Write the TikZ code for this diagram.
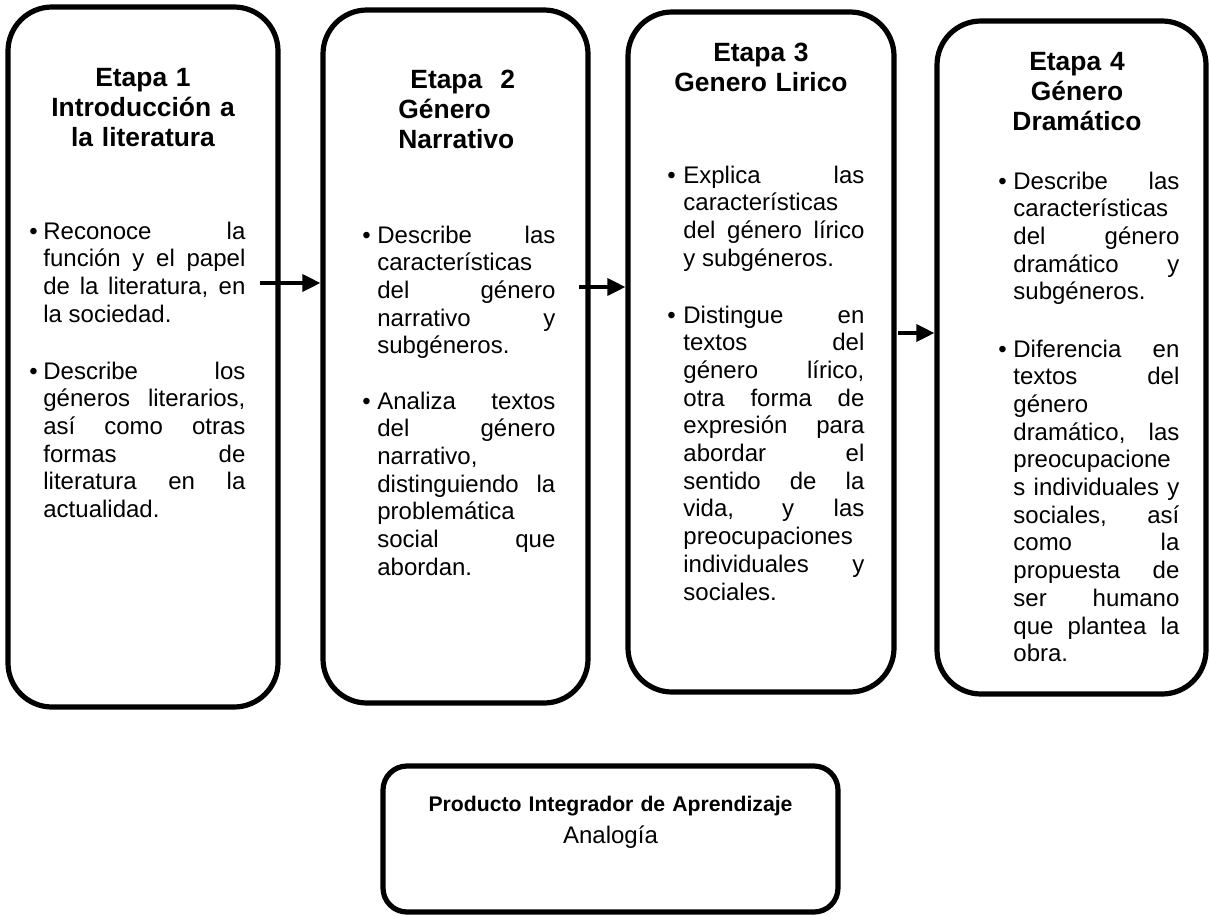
\documentclass[tikz,border=0pt]{standalone}
\usepackage{fontspec}
\setmainfont{Liberation Sans}
\usetikzlibrary{arrows.meta}
\hyphenpenalty=10000
\tolerance=10000
\hbadness=10000

% vineta: sangria, ancho del texto, texto
\newcommand{\vineta}[3]{\makebox[#1][l]{\textbullet}\parbox[t]{#2}{\leftskip=0pt\rightskip=0pt\parfillskip=0pt plus 1fil\relax #3}}

\begin{document}
\begin{tikzpicture}[x=0.5pt, y=-0.5pt,
    caja/.style={draw=black, line width=2.6pt, rounded corners=22pt, inner sep=0pt},
    titulo/.style={inner sep=0pt, anchor=base, text width=130pt, align=center, font=\fontsize{13.2}{15}\selectfont\bfseries},
    lista/.style={inner sep=0pt, anchor=base west, font=\fontsize{12}{13.85}\selectfont},
    flecha/.style={line width=1.8pt, -{Triangle[length=9pt, width=8.5pt]}}]
    \useasboundingbox (0,0) rectangle (1210,916);

    % cajas de las etapas
    \node[caja, minimum width=135pt, minimum height=350pt] (e1) at (143,357) {};
    \node[caja, minimum width=132.5pt, minimum height=346.5pt] (e2) at (455.5,356.5) {};
    \node[caja, minimum width=133pt, minimum height=340pt] (e3) at (761,352) {};
    \node[caja, minimum width=134.5pt, minimum height=336.5pt] (e4) at (1071.5,357.5) {};

    % titulos
    \node[titulo] (t1) at (143,86) {Etapa 1\\Introducción a\\la literatura};
    \node[titulo, anchor=base west, text width=80pt, align=left] (t2) at (398,88) {\hspace*{6pt}Etapa\hspace{9pt}2\\Género\\Narrativo};
    \node[titulo] (t3) at (761,61) {Etapa 3\\Genero Lirico};
    \node[titulo] (t4) at (1077,70) {Etapa 4\\Género\\Dramático};

    % aprendizajes
    \node[lista] (l1a) at (29,239) {\vineta{7pt}{101pt}{Reconoce la\linebreak función y el papel\linebreak de la literatura, en\linebreak la sociedad.}};
    \node[lista] (l1b) at (29,379) {\vineta{7pt}{101pt}{Describe los\linebreak géneros literarios,\linebreak así como otras\linebreak formas de\linebreak literatura en la\linebreak actualidad.}};
    \node[lista] (l2a) at (362,243) {\vineta{7.5pt}{89pt}{Describe las\linebreak características\linebreak del género\linebreak narrativo y\linebreak subgéneros.}};
    \node[lista] (l2b) at (362,409) {\vineta{7.5pt}{89pt}{Analiza textos\linebreak del género\linebreak narrativo,\linebreak distinguiendo la\linebreak problemática\linebreak social que\linebreak abordan.}};
    \node[lista] (l3a) at (667,183) {\vineta{8pt}{90.5pt}{Explica las\linebreak características\linebreak del género lírico\linebreak y subgéneros.}};
    \node[lista] (l3b) at (667,323) {\vineta{8pt}{90.5pt}{Distingue en\linebreak textos del\linebreak género lírico,\linebreak otra forma de\linebreak expresión para\linebreak abordar el\linebreak sentido de la\linebreak vida, y las\linebreak preocupaciones\linebreak individuales y\linebreak sociales.}};
    \node[lista] (l4a) at (998,189) {\vineta{7.5pt}{83pt}{Describe las\linebreak características\linebreak del género\linebreak dramático y\linebreak subgéneros.}};
    \node[lista] (l4b) at (998,357) {\vineta{7.5pt}{83pt}{Diferencia en\linebreak textos del\linebreak género\linebreak dramático, las\linebreak preocupacione\linebreak s individuales y\linebreak sociales, así\linebreak como la\linebreak propuesta de\linebreak ser humano\linebreak que plantea la\linebreak obra.}};

    % flechas
    \coordinate (s1) at (260,283);
    \coordinate (s2) at (579,287);
    \coordinate (s3) at (898,333);
    \draw[flecha] (s1) -- (s1 -| e2.west);
    \draw[flecha] (s2) -- (s2 -| e3.west);
    \draw[flecha] (s3) -- (s3 -| e4.west);

    % producto integrador
    \node[caja, rounded corners=12pt, minimum width=227.5pt, minimum height=73pt] (pia) at (610.5,839) {};
    \node[inner sep=0pt, anchor=base, text width=220pt, align=center, font=\fontsize{10.6}{16}\selectfont\bfseries] (tp) at (610.5,811) {Producto Integrador de Aprendizaje\\\fontsize{12}{16}\selectfont\mdseries Analogía};
\end{tikzpicture}
\end{document}
